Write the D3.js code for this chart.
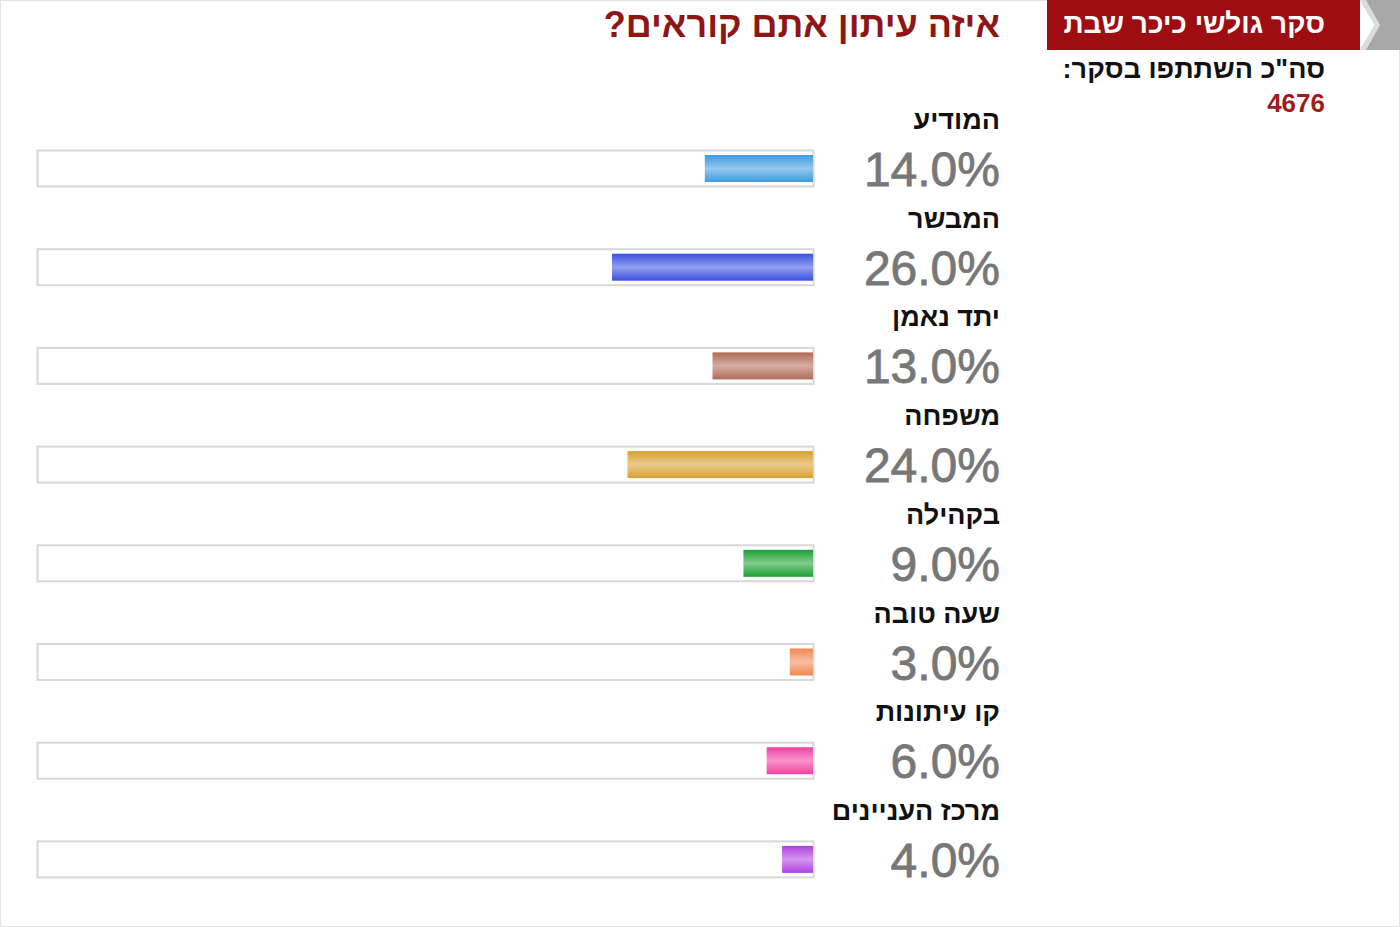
<!DOCTYPE html>
<html><head><meta charset="utf-8">
<script src="https://cdn.jsdelivr.net/npm/d3@7"></script>
<style>body{margin:0;background:#fff}svg{display:block}</style>
</head><body>
<script>
const categories=["המודיע","המבשר","יתד נאמן","משפחה","בקהילה","שעה טובה","קו עיתונות","מרכז העניינים"];
const values=[14,26,13,24,9,3,6,4];
const colors=["#3d9be0","#3a50e0","#b06a55","#d9a030","#1aa030","#f08850","#f040a0","#b040e0"];
const total=4676;

const W=1400,H=927;
const svg=d3.select("body").append("svg").attr("width",W).attr("height",H);
const defs=svg.append("defs");
colors.forEach((c,i)=>{
  const g=defs.append("linearGradient").attr("id","g"+i).attr("x1",0).attr("y1",0).attr("x2",0).attr("y2",1);
  const l=d3.interpolateRgb(c,"#fff")(0.45);
  g.append("stop").attr("offset","0%").attr("stop-color",c);
  g.append("stop").attr("offset","50%").attr("stop-color",l);
  g.append("stop").attr("offset","100%").attr("stop-color",c);
});

svg.append("rect").attr("x",0.5).attr("y",0.5).attr("width",W-1).attr("height",H-1).attr("fill","none").attr("stroke","#e4e4e4");

function rtl(sel){return sel.attr("direction","rtl").attr("text-anchor","start");}

svg.append("rect").attr("x",1047).attr("y",0).attr("width",313).attr("height",50).attr("fill","#9e0d12");
svg.append("path").attr("d","M1360,0 L1400,0 L1400,50 L1360,50 L1375,25 Z").attr("fill","#a8a8a8");
svg.append("path").attr("d","M1360,0 L1366,0 L1380,25 L1366,50 L1360,50 L1375,25Z").attr("fill","#ddd");
rtl(svg.append("text")).attr("x",1325).attr("y",33)
  .attr("font-family","Liberation Sans, Arial").attr("font-weight","bold").attr("font-size",28).attr("fill","#fff").text("סקר גולשי כיכר שבת");
rtl(svg.append("text")).attr("x",1325).attr("y",78)
  .attr("font-family","Liberation Sans, Arial").attr("font-weight","bold").attr("font-size",27).attr("fill","#111").text('סה"כ השתתפו בסקר:');
svg.append("text").attr("x",1325).attr("y",112).attr("text-anchor","end")
  .attr("font-family","Liberation Sans, Arial").attr("font-weight","bold").attr("font-size",26).attr("fill","#a01c1c").text(total);
rtl(svg.append("text")).attr("x",1000).attr("y",37)
  .attr("font-family","Liberation Sans, Arial").attr("font-weight","bold").attr("font-size",36).attr("fill","#8e1616").text("איזה עיתון אתם קוראים?");

const y=d3.scaleBand().domain(categories).range([101,101+98.7*8]);
const x=d3.scaleLinear().domain([0,100]).range([0,773]);
const right=813;

const rows=svg.selectAll("g.row").data(categories).join("g").attr("class","row")
  .attr("transform",d=>`translate(0,${y(d)})`);
rtl(rows.append("text")).attr("x",1000).attr("y",28)
  .attr("font-family","Liberation Sans, Arial").attr("font-weight","bold").attr("font-size",27).attr("fill","#111").text(d=>d);
rows.append("rect").attr("x",37.5).attr("y",49.5).attr("width",776).attr("height",36)
  .attr("fill","#fff").attr("stroke","#d8d8d8").attr("stroke-width",2);
rows.append("rect").attr("x",(d,i)=>right-x(values[i])).attr("y",54).attr("width",(d,i)=>x(values[i])).attr("height",27)
  .attr("fill",(d,i)=>`url(#g${i})`);
rows.append("text").attr("x",1000).attr("y",85).attr("text-anchor","end")
  .attr("font-family","Liberation Sans, Arial").attr("font-size",48).attr("fill","#777")
  .attr("stroke","#777").attr("stroke-width",0.8)
  .text((d,i)=>values[i].toFixed(1)+"%");
</script>
</body></html>
